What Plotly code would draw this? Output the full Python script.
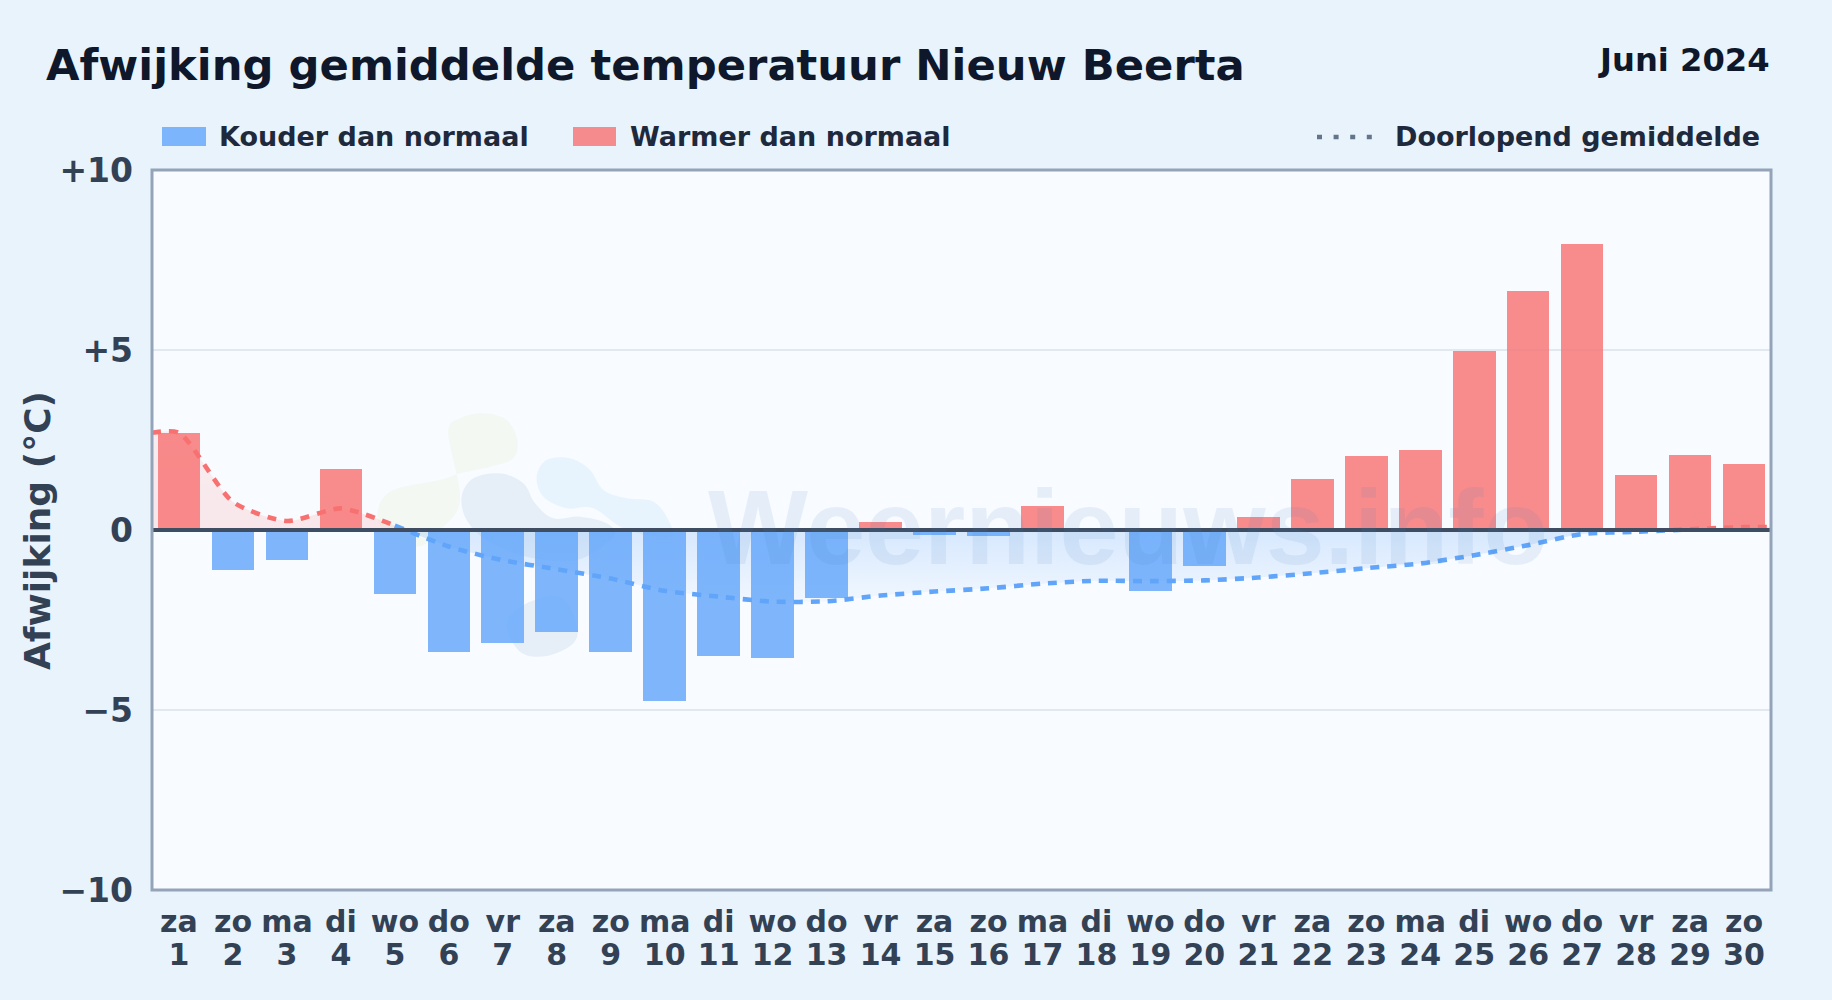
import plotly.graph_objects as go

# ---- data ----
days = list(range(1, 31))
weekdays = ["za","zo","ma","di","wo","do","vr","za","zo","ma","di","wo","do","vr","za",
            "zo","ma","di","wo","do","vr","za","zo","ma","di","wo","do","vr","za","zo"]
deviation = [2.7,-1.1,-0.83,1.7,-1.77,-3.38,-3.15,-2.83,-3.4,-4.75,-3.5,-3.55,-1.9,0.22,-0.13,
             -0.18,0.67,0.0,-1.7,-1.0,0.35,1.43,2.06,2.23,4.98,6.65,7.94,1.52,2.09,1.82]
running_mean = [2.7,0.78,0.25,0.6,0.12,-0.46,-0.84,-1.09,-1.35,-1.69,-1.85,-1.99,-1.98,-1.82,-1.71,
                -1.62,-1.49,-1.41,-1.42,-1.4,-1.32,-1.2,-1.06,-0.93,-0.7,-0.42,-0.11,-0.05,0.02,0.08]
y_ticks = [-10,-5,0,5,10]
y_labels = ["\u221210","\u22125","0","+5","+10"]

W, H = 1832, 1000
L, R, T, B = 152, 1771, 170, 890
FONT = "DejaVu Sans"
BLUE, RED = "#60a5fa", "#f87171"
px = lambda x: (x - L) / (R - L)
py = lambda y: (B - y) / (B - T)

def blob(points, color):
    n = len(points)
    d = f"M {px(points[0][0]):.5f},{py(points[0][1]):.5f}"
    for i in range(n):
        p0, p1, p2, p3 = points[i-1], points[i], points[(i+1) % n], points[(i+2) % n]
        c1 = (p1[0] + (p2[0]-p0[0])/6, p1[1] + (p2[1]-p0[1])/6)
        c2 = (p2[0] - (p3[0]-p1[0])/6, p2[1] - (p3[1]-p1[1])/6)
        d += f" C {px(c1[0]):.5f},{py(c1[1]):.5f} {px(c2[0]):.5f},{py(c2[1]):.5f} {px(p2[0]):.5f},{py(p2[1]):.5f}"
    return dict(type="path", path=d+" Z", xref="paper", yref="paper", layer="below",
                fillcolor=color, line_width=0)

def logo(zx, zy):
    return [(360 + x/3, 390 + y/3) for x, y in zip(zx, zy)]

shapes = [
    blob(logo([265,300,370,440,472,460,390,300,240,100,55,70,170,240,300],
              [130,85,70,90,150,205,230,250,270,300,355,420,470,420,330]), "#f3f8f2"),
    blob(logo([530,560,630,690,730,800,880,925,930,800,700,620,550],
              [260,210,205,240,300,325,335,390,440,420,355,355,320]), "#e8f4fd"),
    blob(logo([305,340,420,490,525,580,660,740,760,650,500,380,320],
              [320,265,250,280,340,385,380,400,440,510,500,450,390]), "#e6eff8"),
    blob(logo([440,500,600,650,640,560,480], [700,640,620,700,760,798,785]), "#e6eff8"),
    dict(type="line", xref="paper", yref="y", x0=0, x1=1, y0=0, y1=0, layer="above",
         line=dict(color="#3f4d62", width=4)),
    dict(type="rect", xref="paper", yref="paper", x0=0, x1=1, y0=0, y1=1, layer="above",
         fillcolor="rgba(0,0,0,0)", line=dict(color="#94a3b8", width=3)),
    dict(type="rect", xref="paper", yref="paper", x0=px(162), x1=px(206), y0=py(146), y1=py(127),
         fillcolor="rgba(96,165,250,0.8)", line_width=0),
    dict(type="rect", xref="paper", yref="paper", x0=px(573), x1=px(616), y0=py(146), y1=py(127),
         fillcolor="rgba(248,113,113,0.8)", line_width=0),
    dict(type="line", xref="paper", yref="paper", x0=px(1317), x1=px(1375), y0=py(137), y1=py(137),
         line=dict(color="#64748b", width=4.5, dash="5px,11.6px")),
]

def label(text, x, y, size, color, xanchor="left", **kw):
    return dict(text=f"<b>{text}</b>", xref="paper", yref="paper", x=px(x), y=py(y), showarrow=False,
                xanchor=xanchor, yanchor="middle", font=dict(family=FONT, size=size, color=color), **kw)

annotations = [
    label("Afwijking gemiddelde temperatuur Nieuw Beerta", 44, 65, 43.3, "#0f172a"),
    label("Juni 2024", 1772, 60, 32.2, "#0f172a", xanchor="right"),
    label("Kouder dan normaal", 217, 137, 27, "#1e293b"),
    label("Warmer dan normaal", 628, 137, 27, "#1e293b"),
    label("Doorlopend gemiddelde", 1393, 137, 27, "#1e293b"),
    label("Afwijking (\u00b0C)", 37, 531, 36, "#334155", xanchor="center", textangle=-90),
    dict(text="<b>Weernieuws.info</b>", xref="paper", yref="paper", x=px(1128), y=py(527), showarrow=False,
         xanchor="center", yanchor="middle",
         font=dict(family="Liberation Sans", size=106, color="rgba(70,130,190,0.10)")),
]

fig = go.Figure()
fig.add_bar(x=days, y=deviation, width=0.79,
            marker=dict(color=["rgba(96,165,250,0.8)" if v < 0 else "rgba(248,113,113,0.8)" for v in deviation],
                        line_width=0), hoverinfo="x+y")

def mean_trace(xs, ys, color, grad, start, stop):
    fig.add_scatter(x=xs, y=ys, mode="lines", line=dict(color=color, width=4.6, dash="9px,8px", shape="spline", smoothing=0.7),
                    fill="tozeroy",
                    fillgradient=dict(type="vertical", start=start, stop=stop, colorscale=[[0, grad[0]], [1, grad[1]]]),
                    hoverinfo="skip")

red_fill = ("rgba(248,113,113,0.15)", "rgba(248,113,113,0.10)")
blue_fill = ("rgba(96,165,250,0.22)", "rgba(96,165,250,0.03)")
mean_trace([0.5] + days[:5], running_mean[:1] + running_mean[:5], RED, red_fill, 0, 2.7)
mean_trace(days[4:29], running_mean[4:29], BLUE, blue_fill, 0, -2.2)
mean_trace(days[28:] + [30.5], running_mean[28:] + running_mean[-1:], RED, red_fill, 0, 0.1)
fig.add_scatter(x=days, y=[None]*30, xaxis="x2", yaxis="y", mode="lines", hoverinfo="skip")

tickfont = dict(family=FONT, size=30, color="#334155")
fig.update_layout(
    width=W, height=H, showlegend=False, autosize=False,
    margin=dict(l=L, r=W-R, t=T, b=H-B),
    paper_bgcolor="#e8f3fc", plot_bgcolor="#f8fbff", bargap=0,
    shapes=shapes, annotations=annotations,
    xaxis=dict(range=[0.5, 30.5], tickmode="array", tickvals=days,
               ticktext=[f"<b>{d}</b>" for d in weekdays], tickangle=0, ticklen=0, showgrid=False, zeroline=False,
               ticklabelstandoff=11, tickfont=tickfont, automargin=False),
    xaxis2=dict(range=[0.5, 30.5], overlaying="x", anchor="y", side="bottom", tickmode="array", tickvals=days,
                ticktext=[f"<b>{d}</b>" for d in days], tickangle=0, ticklen=0, showgrid=False, zeroline=False,
                ticklabelstandoff=44, tickfont=tickfont, automargin=False),
    yaxis=dict(range=[-10, 10], tickmode="array", tickvals=y_ticks, ticktext=[f"<b>{s}</b>" for s in y_labels],
               ticklen=0, gridcolor="#e2e8f0", gridwidth=1.5, zeroline=False, ticklabelstandoff=18,
               tickfont=dict(family=FONT, size=33, color="#334155"), automargin=False),
)
fig.write_html("out.html", config=dict(displayModeBar=False),
               post_script="document.body.style.margin='0';document.body.style.overflow='hidden';document.body.style.background='#e8f3fc';")
